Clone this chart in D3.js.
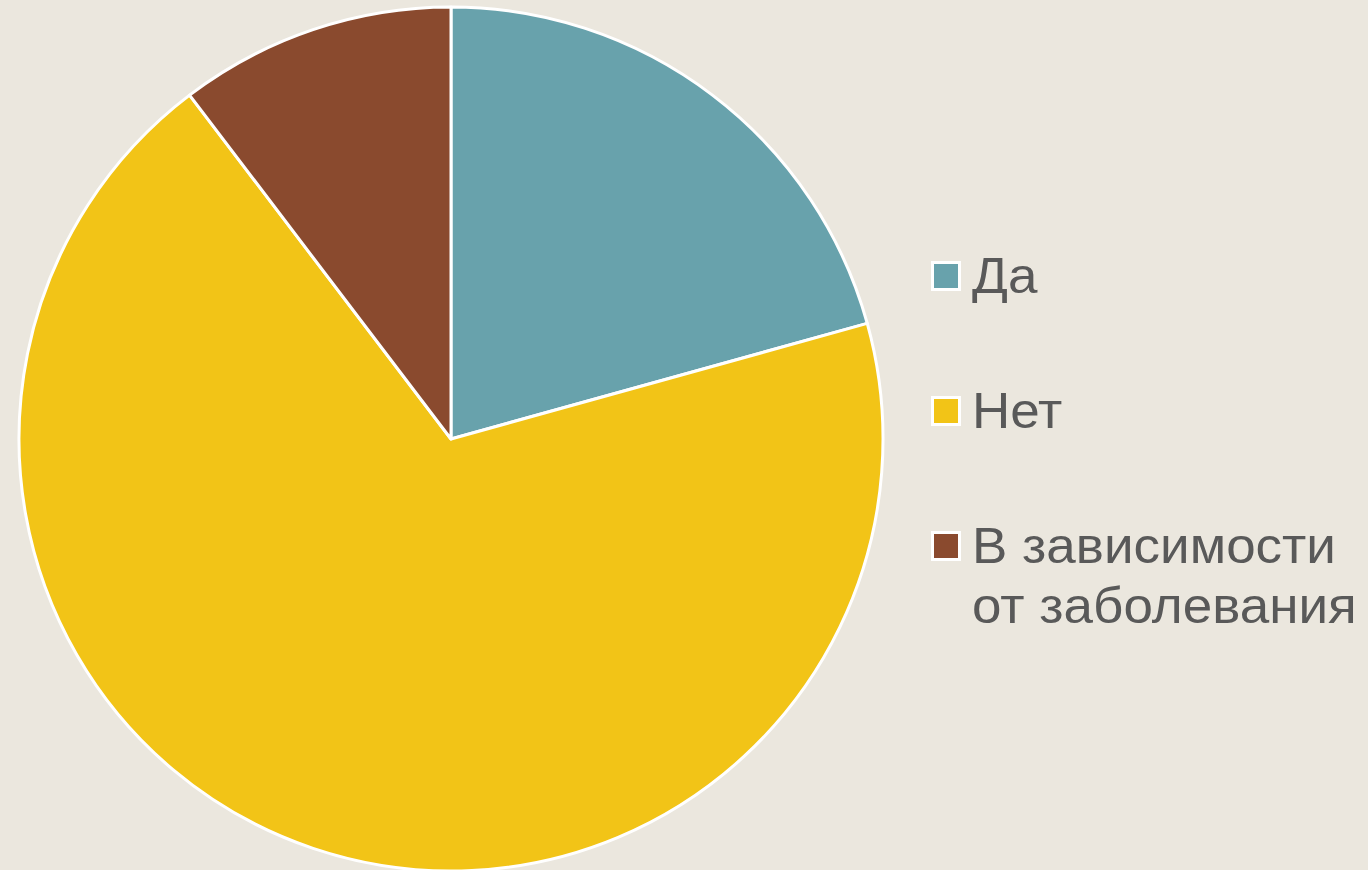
<!DOCTYPE html>
<html><head><meta charset="utf-8">
<script src="https://cdn.jsdelivr.net/npm/d3@7"></script>
<style>body{margin:0;background:#EBE7DE;}svg{display:block;}</style>
</head><body>
<svg id="chart" width="1368" height="870"></svg>
<script>
const categories = ["Да", "Нет", "В зависимости от заболевания"];
const values = [6, 20, 3];
const legendLines = [["Да"], ["Нет"], ["В зависимости", "от заболевания"]];
const colors = ["#68A2AC", "#F2C417", "#8A4A2E"];

const svg = d3.select("#chart");
svg.append("rect").attr("width", 1368).attr("height", 870).attr("fill", "#EBE7DE");
const cx = 451, cy = 439, r = 432;
const pie = d3.pie().sort(null).value(d => d)(values);
const arc = d3.arc().innerRadius(0).outerRadius(r);
const g = svg.append("g").attr("transform", `translate(${cx},${cy})`);
g.selectAll("path").data(pie).enter().append("path")
  .attr("d", arc).attr("fill", (d, i) => colors[i])
  .attr("stroke", "#fff").attr("stroke-width", 3).attr("stroke-linejoin", "round");

const leg = svg.append("g");
const baselines = [293, 428, 563];
categories.forEach((c, i) => {
  const y = baselines[i];
  leg.append("rect").attr("x", 932.5).attr("y", y - 30.5).attr("width", 27).attr("height", 27)
    .attr("fill", colors[i]).attr("stroke", "#fff").attr("stroke-width", 3);
  const t = leg.append("text").attr("x", 0).attr("y", 0)
    .attr("transform", `translate(972,${y}) scale(1.06,1)`)
    .attr("font-family", "Liberation Sans, Arial, sans-serif").attr("font-size", 50).attr("fill", "#595959");
  legendLines[i].forEach((ln, j) => {
    t.append("tspan").attr("x", 0).attr("dy", j === 0 ? 0 : 60).text(ln);
  });
});
</script>
</body></html>
